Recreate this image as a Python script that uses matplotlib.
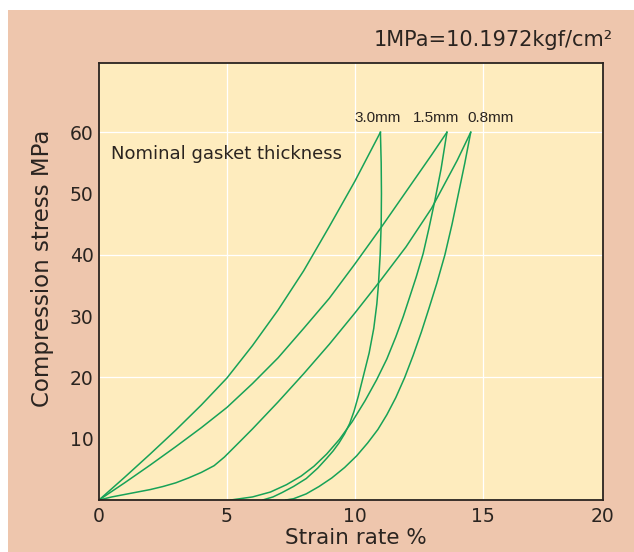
import matplotlib
matplotlib.use("Agg")
import matplotlib.pyplot as plt
from matplotlib.patches import Rectangle

# strain rate (%) / compression stress (MPa)
load_30_x = [0, 1, 2, 3, 4, 5, 6, 7, 8, 9, 10, 11.0]
load_30_y = [0, 3.7, 7.5, 11.4, 15.5, 19.9, 25.2, 31.0, 37.4, 44.6, 52.0, 60]
unload_30_x = [11.0, 11.03, 11.04, 11.03, 10.99, 10.92, 10.86, 10.74, 10.56, 10.32, 10.14,
               9.97, 9.8, 9.6, 9.38, 9.15, 8.9, 8.55, 8.1, 7.6, 7.15, 6.8, 6.4]
unload_30_y = [60, 55, 50, 45, 40, 35, 32, 28, 24, 20, 17,
               14.5, 12.5, 10.8, 9.3, 8.0, 6.8, 5.2, 3.5, 2.2, 1.2, 0.5, 0]

load_15_x = [0, 1, 2, 3, 4, 5, 6, 7, 8, 9, 10, 11, 12, 13, 13.6]
load_15_y = [0, 2.8, 5.7, 8.7, 11.8, 15.1, 19.0, 23.2, 28.0, 32.9, 38.5, 44.3, 50.3, 56.3, 60]
unload_15_x = [13.6, 13.37, 13.13, 12.9, 12.67, 12.4, 12.15, 11.89, 11.6, 11.25, 10.85,
               10.4, 9.9, 9.4, 8.9, 8.4, 7.9, 7.33, 6.7, 6.0, 5.15]
unload_15_y = [60, 54, 48.9, 44.4, 40.2, 36.4, 33.2, 29.9, 26.6, 23.0, 19.6,
               16.2, 12.8, 9.9, 7.5, 5.5, 3.9, 2.5, 1.3, 0.5, 0]

load_08_x = [0, 0.5, 1, 1.5, 2, 2.5, 3, 3.5, 4, 4.5, 4.9, 5.5, 6, 7, 8, 9, 10, 11, 12, 13, 14, 14.53]
load_08_y = [0, 0.5, 0.9, 1.3, 1.7, 2.2, 2.8, 3.6, 4.5, 5.6, 7.0, 9.5, 11.6, 16.0, 20.6, 25.4,
             30.5, 35.8, 41.3, 47.6, 55.4, 60]
unload_08_x = [14.53, 14.3, 14.05, 13.8, 13.52, 13.2, 12.9, 12.6, 12.28, 11.95, 11.6, 11.25,
               10.9, 10.5, 10.07, 9.6, 9.1, 8.6, 8.1, 7.6, 7.3]
unload_08_y = [60, 55, 50, 45, 40, 35.3, 31.3, 27.4, 23.6, 20.0, 16.7, 13.9,
               11.5, 9.3, 7.2, 5.3, 3.6, 2.2, 1.0, 0.2, 0]

thickness_labels = ["3.0mm", "1.5mm", "0.8mm"]
label_x = [10.9, 13.16, 15.3]
label_y = [62.4, 62.4, 62.4]

x_ticks = [0, 5, 10, 15, 20]
y_ticks = [10, 20, 30, 40, 50, 60]
grid_x = [5, 10, 15]
grid_y = [20, 40, 60]

peach = '#EEC6AD'
cream = '#FEECBE'
green = '#17A257'
ink = '#2A2420'

fig = plt.figure(figsize=(6.34, 5.52), dpi=100, facecolor='white')
fig.add_artist(Rectangle((8 / 634, 0), 1, 1 - 10 / 552, transform=fig.transFigure,
                         facecolor=peach, edgecolor='none', zorder=-10))

ax = fig.add_axes([99 / 634, 1 - 500 / 552, 504 / 634, 437 / 552])
ax.set_facecolor(cream)
x_max = 19.7
ax.set_xlim(0, x_max)
ax.set_ylim(0, 71.3)

for gx in grid_x:
    ax.axvline(gx, color='white', linewidth=0.9, zorder=1)
for gy in grid_y:
    ax.axhline(gy, color='white', linewidth=0.9, zorder=1)

curves = [(load_30_x, load_30_y), (unload_30_x, unload_30_y),
          (load_15_x, load_15_y), (unload_15_x, unload_15_y),
          (load_08_x, load_08_y), (unload_08_x, unload_08_y)]
for cx, cy in curves:
    ax.plot(cx, cy, color=green, linewidth=1.1, zorder=3, solid_joinstyle='round')

for txt, lx, ly in zip(thickness_labels, label_x, label_y):
    ax.text(lx, ly, txt, ha='center', va='center', fontsize=11, color=ink,
            family=['Liberation Sans', 'DejaVu Sans'])

ax.text(0.45, 56.5, "Nominal gasket thickness", ha='left', va='center', fontsize=13, color=ink)

# last tick sits on the frame edge, as in the original drawing
ax.set_xticks([t if t < x_max else x_max for t in x_ticks])
ax.set_xticklabels([str(t) for t in x_ticks])
ax.set_yticks(y_ticks)
ax.set_yticklabels([str(t) for t in y_ticks])
ax.tick_params(axis='both', length=0, labelsize=13.5, colors=ink)
ax.tick_params(axis='x', pad=5)
ax.tick_params(axis='y', pad=4)

for sp in ax.spines.values():
    sp.set_color(ink)
    sp.set_linewidth(1.3)
    sp.set_zorder(4)

ax.set_xlabel("Strain rate %", fontsize=15.5, color=ink)
ax.xaxis.set_label_coords(0.51, -0.063)
ax.set_ylabel("Compression stress MPa", fontsize=16.5, color=ink)
ax.yaxis.set_label_coords(-0.09, 0.531)

fig.text(613 / 634, 1 - 40 / 552, "1MPa=10.1972kgf/cm²", ha='right', va='center',
         fontsize=15, color=ink)

fig.savefig("out.png", dpi=100, facecolor=fig.get_facecolor())
